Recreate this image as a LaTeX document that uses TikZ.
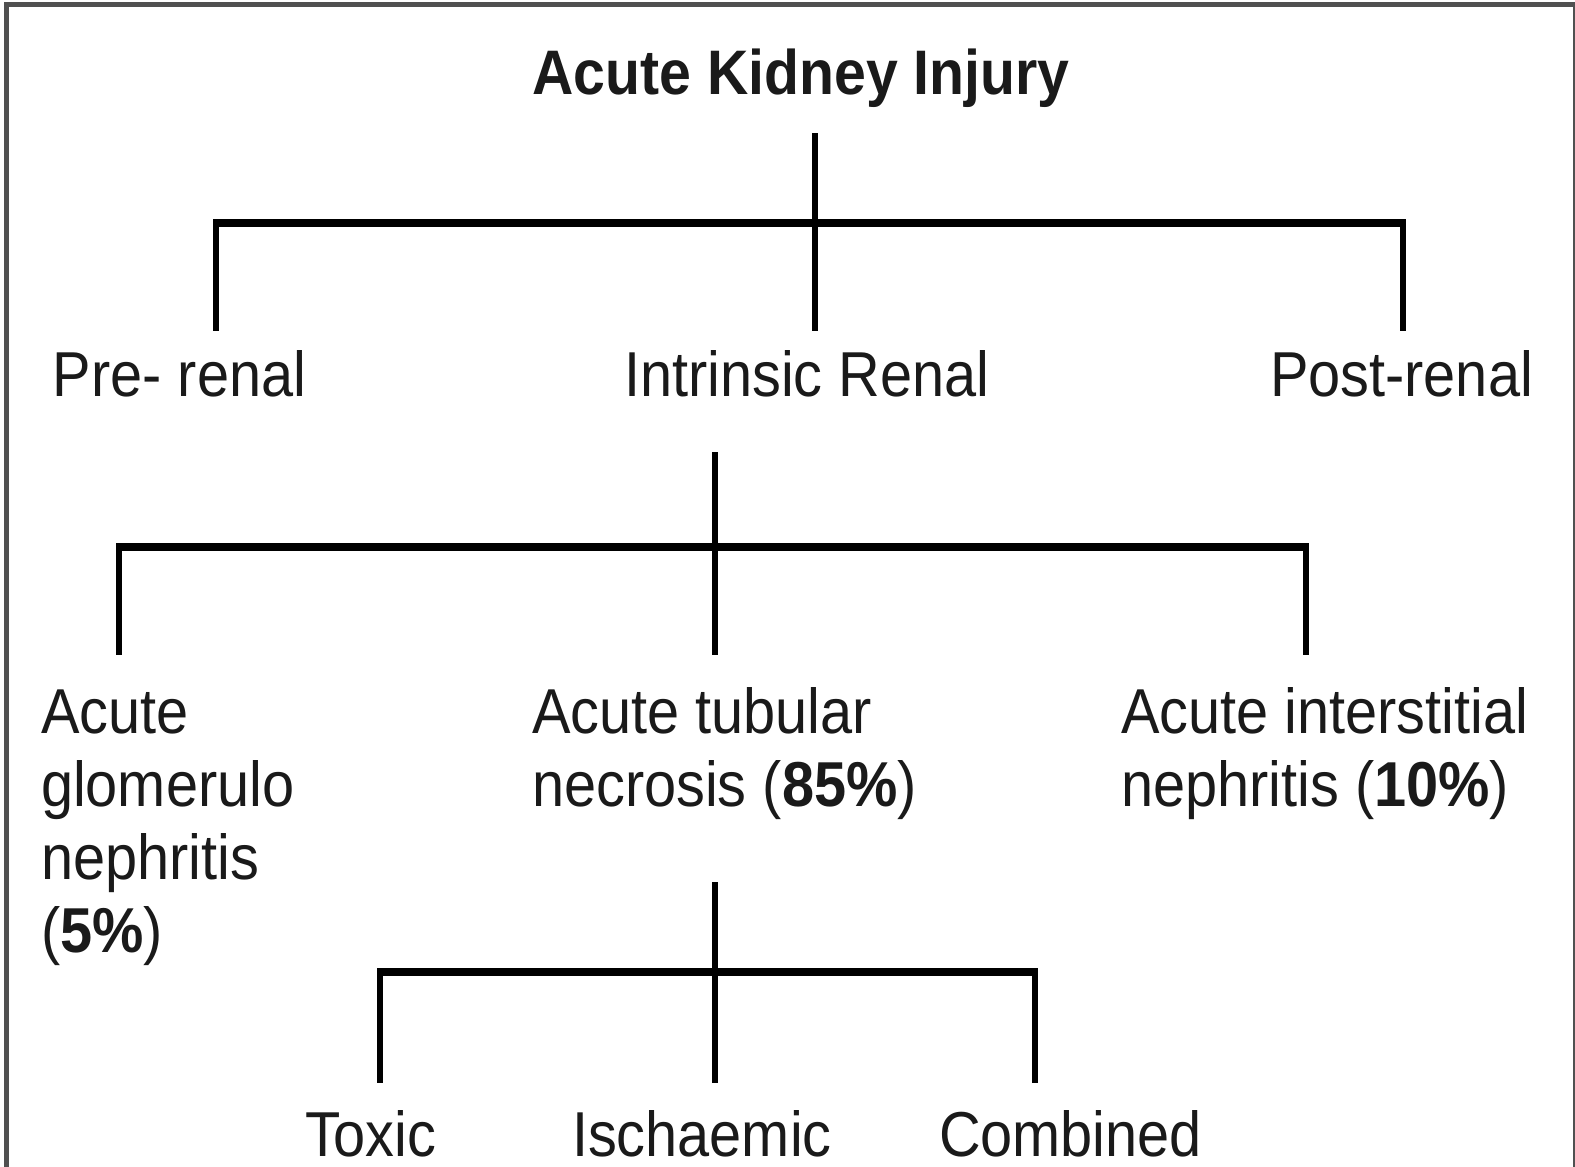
\documentclass[tikz,border=0pt]{standalone}
\usepackage{fontspec}
\usepackage{graphicx}
\setmainfont{Liberation Sans}
\definecolor{frameg}{HTML}{505050}
\definecolor{txt}{HTML}{1A1A1A}
\newcommand{\vstretch}[1]{\scalebox{1}[1.1]{#1}}
\begin{document}
\begin{tikzpicture}[x=0.5pt,y=-0.5pt,
  lbl/.style={inner sep=0pt,outer sep=0pt,anchor=base west,text=txt,font=\fontsize{28.85}{33.2}\selectfont},
  ttl/.style={inner sep=0pt,outer sep=0pt,anchor=base,text=txt,font=\fontsize{28.6}{33.2}\selectfont\bfseries},
  hbar/.style={line width=3.9pt,shorten <=-1.375pt,shorten >=-1.375pt},
  vbar/.style={line width=2.75pt},
  frame/.style={draw=frameg,line width=2.5pt}]
\useasboundingbox (0,0) rectangle (1575,1167);
\clip (0,0) rectangle (1575,1167);
\fill[white] (0,0) rectangle (1575,1167);
\draw[frame] (6,4.5) rectangle (1575.5,1220);

% texts
\node[ttl] (aki) at (801,94) {\vstretch{Acute Kidney Injury}};
\node[lbl] (pre) at (53,396) {\vstretch{Pre- renal}};
\node[lbl] (intr) at (624,396) {\vstretch{Intrinsic Renal}};
\node[lbl] (post) at (1270,396) {\vstretch{Post-renal}};
\node[lbl] (agn) at (41,733) {\vstretch{\begin{tabular}[t]{@{}l@{}}Acute\\glomerulo\\nephritis\\(\textbf{5\%})\end{tabular}}};
\node[lbl] (atn) at (532,733) {\vstretch{\begin{tabular}[t]{@{}l@{}}Acute tubular\\necrosis (\textbf{85\%})\end{tabular}}};
\node[lbl] (ain) at (1121,733) {\vstretch{\begin{tabular}[t]{@{}l@{}}Acute interstitial\\nephritis (\textbf{10\%})\end{tabular}}};
\node[lbl] (tox) at (305,1156) {\vstretch{Toxic}};
\node[lbl] (isc) at (572,1156) {\vstretch{Ischaemic}};
\node[lbl] (comb) at (939,1156) {\vstretch{Combined}};

% level 1 connectors
\coordinate (s1) at (815,133);
\coordinate (j1) at (815,223);
\coordinate (j1l) at (216,223);
\coordinate (j1r) at (1403,223);
\coordinate (d1l) at (216,331);
\coordinate (d1m) at (815,331);
\coordinate (d1r) at (1403,331);
\draw[vbar] (s1) -- (d1m);
\draw[hbar] (j1l) -- (j1r);
\draw[vbar] (j1l) -- (d1l);
\draw[vbar] (j1r) -- (d1r);

% level 2 connectors
\coordinate (s2) at (715,452);
\coordinate (j2l) at (119,547);
\coordinate (j2r) at (1306,547);
\coordinate (d2l) at (119,655);
\coordinate (d2m) at (715,655);
\coordinate (d2r) at (1306,655);
\draw[vbar] (s2) -- (d2m);
\draw[hbar] (j2l) -- (j2r);
\draw[vbar] (j2l) -- (d2l);
\draw[vbar] (j2r) -- (d2r);

% level 3 connectors
\coordinate (s3) at (715,882);
\coordinate (j3l) at (380,972);
\coordinate (j3r) at (1035,972);
\coordinate (d3l) at (380,1083);
\coordinate (d3m) at (715,1083);
\coordinate (d3r) at (1035,1083);
\draw[vbar] (s3) -- (d3m);
\draw[hbar] (j3l) -- (j3r);
\draw[vbar] (j3l) -- (d3l);
\draw[vbar] (j3r) -- (d3r);
\end{tikzpicture}
\end{document}
